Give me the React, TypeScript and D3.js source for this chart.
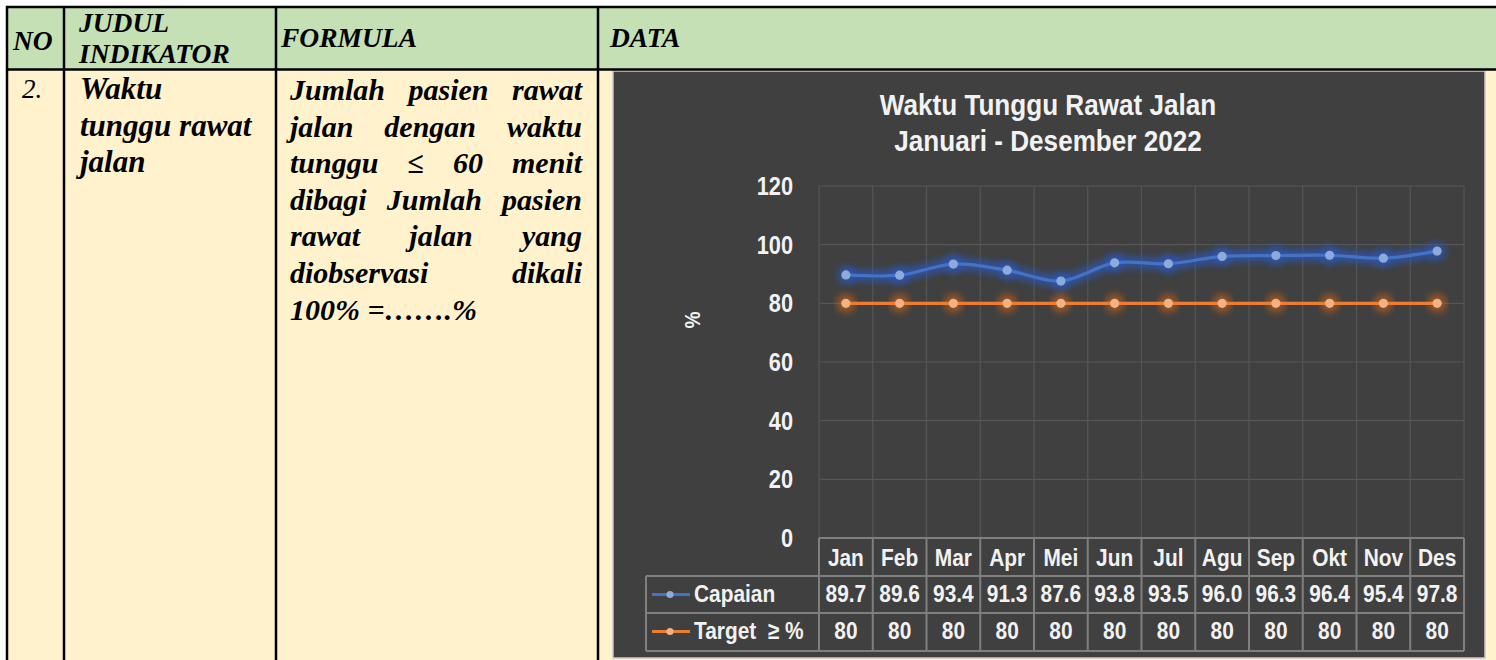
import React from 'react';
import * as d3 from 'd3';

// chart values
const months = ['Jan', 'Feb', 'Mar', 'Apr', 'Mei', 'Jun', 'Jul', 'Agu', 'Sep', 'Okt', 'Nov', 'Des'];
const capaian = [89.7, 89.6, 93.4, 91.3, 87.6, 93.8, 93.5, 96.0, 96.3, 96.4, 95.4, 97.8];
const target = [80, 80, 80, 80, 80, 80, 80, 80, 80, 80, 80, 80];
const yTicks = [0, 20, 40, 60, 80, 100, 120];

const chartTitle = ['Waktu Tunggu Rawat Jalan', 'Januari - Desember 2022'];
const seriesNames = ['Capaian', 'Target  ≥ %'];

// document table around the chart
const indikatorLines = ['Waktu', 'tunggu rawat', 'jalan'];
const formulaLines = [
  ['Jumlah', 'pasien', 'rawat'],
  ['jalan', 'dengan', 'waktu'],
  ['tunggu', '≤', '60', 'menit'],
  ['dibagi', 'Jumlah', 'pasien'],
  ['rawat', 'jalan', 'yang'],
  ['diobservasi', 'dikali'],
  ['100% =…….%'],
];

const W = 1496;
const H = 660;
const serif = "'Liberation Serif', 'Times New Roman', serif";
const sans = "'Liberation Sans', Arial, sans-serif";
const SX = 0.87; // no narrow face installed, squeeze the sans instead

const GREEN = '#c5e0b4';
const CREAM = '#fff2cc';
const BLUE = '#4472c4';
const BLUE_MK = '#8eaadb';
const ORANGE = '#ed7d31';
const ORANGE_MK = '#f4b183';
const TXT = '#f2f2f2';

let measureCtx: CanvasRenderingContext2D | null = null;
function measure(text: string, font: string) {
  if (!measureCtx) measureCtx = document.createElement('canvas').getContext('2d');
  measureCtx!.font = font;
  return measureCtx!.measureText(text).width;
}

// condensed bold text for the chart
function NText({ x, y, size, anchor = 'start', dy, children, rotate = 0 }: any) {
  return (
    <text
      transform={`translate(${x},${y}) rotate(${rotate}) scale(${SX},1)`}
      fontFamily={sans}
      fontWeight="bold"
      fontSize={size}
      fill={TXT}
      textAnchor={anchor}
      dy={dy}
      style={{ whiteSpace: 'pre' }}
    >
      {children}
    </text>
  );
}

function FormulaText() {
  const left = 290;
  const right = 582;
  const size = 30;
  const out: JSX.Element[] = [];
  formulaLines.forEach((words, li) => {
    const yb = 100 + li * 36.6;
    const styleOf = (w: string) => (w === '≤' ? 'normal' : 'italic');
    if (words.length === 1) {
      out.push(
        <text key={`f${li}`} x={left} y={yb} fontFamily={serif} fontSize={size} fontWeight="bold" fontStyle="italic">
          {words[0]}
        </text>
      );
      return;
    }
    const widths = words.map(w => measure(w, `${styleOf(w)} bold ${size}px ${serif}`));
    const gap = (right - left - d3.sum(widths)) / (words.length - 1);
    let x = left;
    words.forEach((w, wi) => {
      out.push(
        <text key={`f${li}-${wi}`} x={x} y={yb} fontFamily={serif} fontSize={size} fontWeight="bold" fontStyle={styleOf(w)}>
          {w}
        </text>
      );
      x += widths[wi] + gap;
    });
  });
  return <g fill="#000">{out}</g>;
}

function Chart() {
  const plotL = 819, plotR = 1464, plotT = 186, plotB = 538;
  const x = d3.scaleBand<string>().domain(months).range([plotL, plotR]);
  const y = d3.scaleLinear().domain([0, 120]).range([plotB, plotT]);
  const cx = (i: number) => (x(months[i]) as number) + x.bandwidth() / 2;

  const line = d3.line<number>()
    .x((_, i) => cx(i))
    .y(d => y(d))
    .curve(d3.curveCatmullRom.alpha(0.5));

  const rowBounds = [plotB, 576, 613, 651];
  const legendL = 646;
  const edges = months.map((m) => x(m) as number).concat([plotR]);

  const series = [
    { name: seriesNames[0], values: capaian, color: BLUE, mk: BLUE_MK, glow: '#2a58c0', fmt: (v: number) => v.toFixed(1) },
    { name: seriesNames[1], values: target, color: ORANGE, mk: ORANGE_MK, glow: '#cf6418', fmt: (v: number) => String(v) },
  ];

  return (
    <g>
      <defs>
        <filter id="glow" x="-10%" y="-60%" width="120%" height="220%">
          <feGaussianBlur stdDeviation="3.5" />
        </filter>
      </defs>
      <rect x={613} y={71} width={872} height={587} fill="#404040" stroke="#c8c8c8" strokeWidth={1.5} />

      <NText x={1048} y={115} size={30} anchor="middle">{chartTitle[0]}</NText>
      <NText x={1048} y={151} size={30} anchor="middle">{chartTitle[1]}</NText>

      {/* gridlines */}
      <g stroke="#565656" strokeWidth={1.2}>
        {yTicks.filter(t => t > 0).map(t => (
          <line key={`h${t}`} x1={plotL} x2={plotR} y1={y(t)} y2={y(t)} />
        ))}
        {edges.map((e, i) => (
          <line key={`v${i}`} x1={e} x2={e} y1={plotT} y2={plotB} />
        ))}
      </g>

      {/* y axis labels */}
      {yTicks.map(t => (
        <NText key={t} x={793} y={y(t)} dy="0.36em" size={25} anchor="end">{t}</NText>
      ))}
      <NText x={692} y={320} rotate={-90} dy="0.35em" size={22} anchor="middle">%</NText>

      {/* series */}
      {series.map(s => (
        <g key={s.name}>
          <path d={line(s.values) as string} fill="none" stroke={s.glow} strokeWidth={12} opacity={0.7} filter="url(#glow)" />
          {s.values.map((v, i) => (
            <circle key={i} cx={cx(i)} cy={y(v)} r={9.5} fill={s.glow} opacity={0.6} filter="url(#glow)" />
          ))}
          <path d={line(s.values) as string} fill="none" stroke={s.color} strokeWidth={3.2} strokeLinecap="round" />
          {s.values.map((v, i) => (
            <circle key={`m${i}`} cx={cx(i)} cy={y(v)} r={4.6} fill={s.mk} />
          ))}
        </g>
      ))}

      {/* data table */}
      <g stroke="#7f7f7f" strokeWidth={2} fill="none">
        <line x1={plotL} x2={plotR} y1={rowBounds[0]} y2={rowBounds[0]} />
        <line x1={legendL} x2={plotR} y1={rowBounds[1]} y2={rowBounds[1]} />
        <line x1={legendL} x2={plotR} y1={rowBounds[2]} y2={rowBounds[2]} />
        <line x1={legendL} x2={plotR} y1={rowBounds[3]} y2={rowBounds[3]} />
        <line x1={legendL} x2={legendL} y1={rowBounds[1]} y2={rowBounds[3]} />
        {edges.map((e, i) => (
          <line key={i} x1={e} x2={e} y1={rowBounds[0]} y2={rowBounds[3]} />
        ))}
      </g>
      {months.map((m, i) => (
        <NText key={m} x={cx(i)} y={566} size={24} anchor="middle">{m}</NText>
      ))}
      {series.map((s, si) =>
        s.values.map((v, i) => (
          <NText key={`${si}-${i}`} x={cx(i)} y={[602, 639][si]} size={24} anchor="middle">{s.fmt(v)}</NText>
        ))
      )}
      {series.map((s, si) => {
        const ky = [594.5, 631.5][si];
        return (
          <g key={`lg${si}`}>
            <line x1={652} x2={690} y1={ky} y2={ky} stroke={s.color} strokeWidth={3} />
            <circle cx={670} cy={ky} r={3.6} fill={s.mk} />
            <NText x={694} y={[602, 639][si]} size={24}>{s.name}</NText>
          </g>
        );
      })}
    </g>
  );
}

export default function App() {
  const cols = [7, 64, 276, 598];
  return (
    <svg width={W} height={H} style={{ position: 'absolute', left: 0, top: 0, display: 'block', background: '#fff' }}>
      {/* table background */}
      <rect x={7} y={7} width={W - 7} height={62} fill={GREEN} />
      <rect x={7} y={69} width={W - 7} height={H - 69} fill={CREAM} />

      {/* header text */}
      <g fontFamily={serif} fontWeight="bold" fontStyle="italic" fontSize={27.5} fill="#000">
        <text x={13} y={50}>NO</text>
        <text x={79} y={32}>JUDUL</text>
        <text x={79} y={63}>INDIKATOR</text>
        <text x={281} y={47}>FORMULA</text>
        <text x={610} y={47}>DATA</text>
      </g>

      {/* row content */}
      <text x={22} y={98} fontFamily={serif} fontStyle="italic" fontSize={27} fill="#000">2.</text>
      <g fontFamily={serif} fontWeight="bold" fontStyle="italic" fontSize={31} fill="#000">
        {indikatorLines.map((t, i) => (
          <text key={i} x={80} y={99 + i * 36.6}>{t}</text>
        ))}
      </g>
      <FormulaText />

      <Chart />

      {/* table borders */}
      <g stroke="#000" strokeWidth={2.5}>
        <line x1={6} x2={W} y1={7} y2={7} />
        <line x1={6} x2={W} y1={69.5} y2={69.5} />
        {cols.map(c => (
          <line key={c} x1={c} x2={c} y1={6} y2={H} />
        ))}
      </g>
    </svg>
  );
}
